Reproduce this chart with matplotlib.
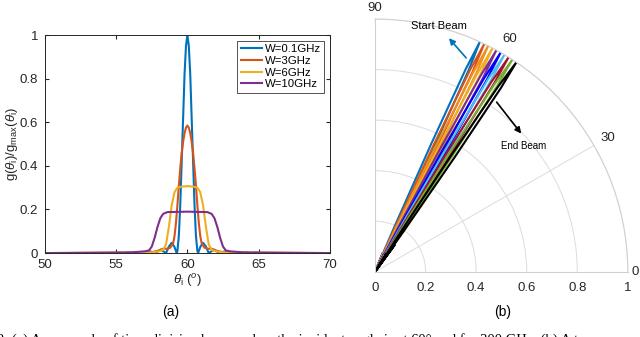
import numpy as np
import matplotlib
matplotlib.use("Agg")
import matplotlib.pyplot as plt

plt.rcParams['font.family'] = ['Liberation Sans', 'DejaVu Sans']
plt.rcParams['mathtext.fontset'] = 'custom'
plt.rcParams['mathtext.rm'] = 'Liberation Sans'
plt.rcParams['mathtext.it'] = 'Liberation Sans:italic'

# ---- (a) normalised gain vs incident angle ----
blue_theta = [50.0, 54.75, 55.13, 55.5, 55.88, 56.25, 56.63, 57.0, 57.38, 57.75, 58.13, 58.5,
              58.7, 58.9, 59.08, 59.25, 59.3, 59.4, 59.5, 59.6, 59.7, 59.8, 59.9, 60.0,
              60.1, 60.2, 60.3, 60.4, 60.5, 60.6, 60.7, 60.75, 60.92, 61.1, 61.3, 61.5,
              61.87, 62.25, 62.62, 63.0, 63.37, 63.75, 64.12, 64.5, 64.87, 65.25, 70.0]
blue_g = [0, 0, 0.002, 0, 0.003, 0, 0.005, 0, 0.008, 0, 0.016, 0,
          0.03, 0.047, 0.03, 0, 0.01, 0.08, 0.22, 0.42, 0.62, 0.82, 0.95, 1.0,
          0.95, 0.82, 0.62, 0.42, 0.22, 0.08, 0.01, 0, 0.03, 0.047, 0.03, 0,
          0.016, 0, 0.008, 0, 0.005, 0, 0.003, 0, 0.002, 0, 0]

orange_theta = [50.0, 56.5, 57.5, 58.0, 58.3, 58.6, 58.8, 59.0, 59.1, 59.2, 59.3, 59.4, 59.5,
                59.6, 59.7, 59.8, 59.9, 60.0, 60.1, 60.2, 60.3, 60.4, 60.5, 60.6, 60.7,
                60.8, 60.9, 61.0, 61.2, 61.4, 61.7, 62.0, 62.5, 63.5, 70.0]
orange_g = [0, 0.001, 0.004, 0.012, 0.02, 0.02, 0.025, 0.045, 0.08, 0.14, 0.22, 0.31, 0.39,
            0.46, 0.51, 0.55, 0.575, 0.585, 0.575, 0.55, 0.51, 0.46, 0.39, 0.31, 0.22,
            0.14, 0.08, 0.045, 0.025, 0.02, 0.02, 0.012, 0.004, 0.001, 0]

yellow_theta = [50.0, 57.5, 58.0, 58.3, 58.5, 58.7, 58.9, 59.1, 59.3, 59.6, 60.0,
                60.4, 60.7, 60.9, 61.1, 61.3, 61.5, 61.7, 62.0, 62.5, 70.0]
yellow_g = [0, 0.003, 0.008, 0.015, 0.04, 0.12, 0.22, 0.28, 0.3, 0.305, 0.307,
            0.305, 0.3, 0.28, 0.22, 0.12, 0.04, 0.015, 0.008, 0.003, 0]

purple_theta = [50.0, 56.0, 57.0, 57.3, 57.5, 57.7, 57.9, 58.1, 58.3, 58.6, 60.0,
                61.4, 61.7, 61.9, 62.1, 62.3, 62.5, 62.7, 63.0, 64.0, 70.0]
purple_g = [0, 0.003, 0.008, 0.012, 0.03, 0.07, 0.12, 0.16, 0.18, 0.188, 0.19,
            0.188, 0.18, 0.16, 0.12, 0.07, 0.03, 0.012, 0.008, 0.003, 0]

series_labels = ['W=0.1GHz', 'W=3GHz', 'W=6GHz', 'W=10GHz']
series_colors = ['#0072BD', '#D95319', '#EDB120', '#7E2F8E']

# ---- (b) polar beam sweep ----
beam_peaks = [65.5, 64.4, 63.4, 62.3, 61.3, 60.2, 59.2, 58.1, 57.1, 56.0]
beam_colors = ['#0072BD', '#D95319', '#F0901E', '#EDB120', '#7E2F8E',
               '#0000FF', '#4DBEEE', '#A2142F', '#77AC30', '#000000']
beam_offset = [-2.6, -2.2, -1.9, -1.6, -1.2, -0.8, -0.4, 0.0, 0.4, 0.8, 1.2, 1.6, 1.9, 2.2, 2.6]
beam_gain = [0.0, 0.13, 0.0, 0.0, 0.2, 0.55, 0.88, 1.0, 0.88, 0.55, 0.2, 0.0, 0.0, 0.08, 0.0]
angle_ticks = [0, 30, 60, 90]

fig = plt.figure(figsize=(6.4, 3.37), dpi=100)

ax = fig.add_axes([0.0703, 0.249, 0.445, 0.647])
xs = [blue_theta, orange_theta, yellow_theta, purple_theta]
ys = [blue_g, orange_g, yellow_g, purple_g]
for x, y, c, lab in zip(xs, ys, series_colors, series_labels):
    ax.plot(x, y, color=c, lw=1.5, label=lab)
ax.set_xlim(50, 70)
ax.set_ylim(0, 1)
ax.set_xticks([50, 55, 60, 65, 70])
ax.set_yticks([0, 0.2, 0.4, 0.6, 0.8, 1])
ax.set_yticklabels(['0', '0.2', '0.4', '0.6', '0.8', '1'])
ax.tick_params(direction='in', top=True, right=True, length=3, labelsize=9.5,
               colors='#262626')
ax.tick_params(axis='y', pad=5)
ax.tick_params(axis='x', pad=4)
for s in ax.spines.values():
    s.set_color('#262626')
    s.set_linewidth(0.7)
ax.set_xlabel(r'$\theta_\mathrm{i}$ ($^o$)', fontsize=9.5, color='#262626', labelpad=1)
ax.set_ylabel(r'g($\theta_\mathrm{i}$)/g$_\mathrm{max}$($\theta_\mathrm{i}$)', fontsize=9.5,
              color='#262626', labelpad=0)
leg = ax.legend(loc='upper right', fontsize=8.2, frameon=True, fancybox=False,
                edgecolor='#262626', handlelength=1.9, handletextpad=0.2,
                borderpad=0.3, labelspacing=0.15, borderaxespad=0.5)
leg.get_frame().set_linewidth(0.7)
fig.text(0.266, 0.075, '(a)', ha='center', va='center', fontsize=10)

pax = fig.add_axes([0.586, 0.193, 0.395, 0.751], projection='polar')
pax.set_thetamin(0)
pax.set_thetamax(90)
pax.set_rlim(0, 1)
for pk, c in zip(beam_peaks, beam_colors):
    th = np.deg2rad(pk + np.array(beam_offset))
    pax.plot(th, beam_gain, color=c, lw=1.5)
pax.set_rgrids([0.0, 0.2, 0.4, 0.6, 0.8, 1.0], labels=['0', '0.2', '0.4', '0.6', '0.8', '1'])
pax.set_thetagrids(angle_ticks, labels=['' for a in angle_ticks])
pax.grid(color='#dcdcdc', lw=0.7)
for s in pax.spines.values():
    s.set_color('#d0d0d0')
    s.set_linewidth(0.8)
pax.tick_params(axis='y', labelsize=9.5, colors='#262626')
# angle labels placed by hand, MATLAB-like
for a in angle_ticks:
    if a == 0:
        rr = 1.03
    elif a == 90:
        rr = 1.042
    else:
        rr = 1.062
    pax.text(np.deg2rad(a), rr, str(a), ha='center', va='center', fontsize=9.5,
             color='#262626', clip_on=False)

pax.annotate('', xy=(np.deg2rad(73.0), 0.975), xytext=(np.deg2rad(66.3), 0.915),
             arrowprops=dict(arrowstyle='-|>', color='#0072BD', lw=1.2, mutation_scale=9),
             annotation_clip=False)
pax.text(np.deg2rad(75.4), 1.005, 'Start Beam', ha='center', va='center', fontsize=8)
pax.annotate('', xy=(np.deg2rad(42.6), 0.795), xytext=(np.deg2rad(55.1), 0.829),
             arrowprops=dict(arrowstyle='-|>', color='black', lw=1.2, mutation_scale=9),
             annotation_clip=False)
pax.text(np.deg2rad(40.4), 0.77, 'End Beam', ha='center', va='center', fontsize=7)
fig.text(0.786, 0.075, '(b)', ha='center', va='center', fontsize=10)

fig.text(-0.005, -0.02,
         '2: (a) An example of time division beams when the incident angle is at 60\u00b0 and f = 300 GHz. (b) A to',
         fontsize=10.5, family='Liberation Serif', va='baseline')

fig.savefig('out.png', dpi=100)
